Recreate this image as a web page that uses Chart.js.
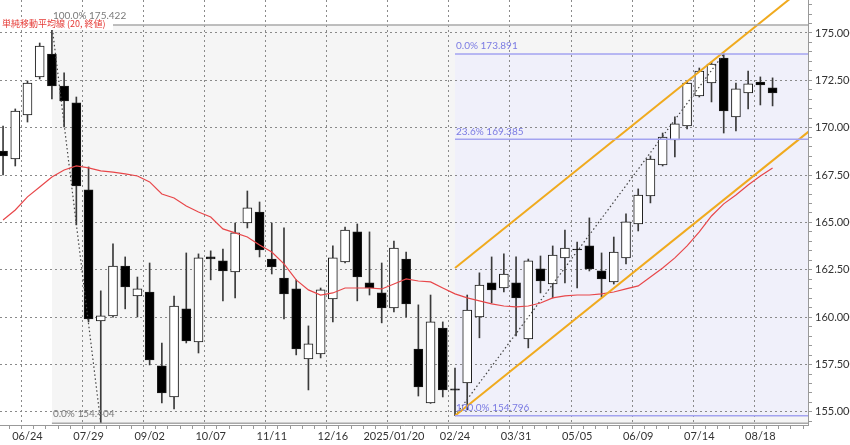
<!DOCTYPE html>
<html>
<head>
<meta charset="utf-8">
<script src="https://cdn.jsdelivr.net/npm/chart.js@4.4.1/dist/chart.umd.min.js"></script>
<style>
  html, body { margin: 0; padding: 0; background: #fff; }
  #wrap { width: 850px; height: 445px; }
</style>
</head>
<body>
<div id="wrap"><canvas id="chart" width="850" height="445"></canvas></div>
<script>
// weekly candles, first week = 2024/06/10
const open = [168.77, 168.35, 170.67, 172.68, 173.89, 172.20, 171.31, 166.72, 159.80, 160.07,
  162.70, 161.12, 161.33, 157.43, 155.79, 160.44, 158.69, 163.18, 162.97, 162.39,
  164.97, 165.55, 163.07, 162.07, 161.49, 157.80, 158.06, 160.96, 162.92, 164.50,
  161.81, 161.28, 160.49, 163.07, 158.32, 155.47, 159.43, 156.22, 156.53, 160.01,
  161.81, 161.54, 161.81, 158.85, 162.55, 161.75, 163.13, 163.60, 163.76, 162.44,
  161.86, 163.13, 164.92, 166.40, 168.03, 169.35, 170.09, 171.68, 172.36, 173.68,
  170.57, 171.83, 172.41, 172.10];
const high = [170.09, 170.99, 172.47, 174.47, 175.42, 172.89, 171.62, 167.93, 161.39, 163.87,
  163.18, 162.12, 162.86, 158.64, 161.12, 163.39, 163.34, 163.50, 163.60, 164.97,
  166.66, 166.08, 164.97, 164.71, 161.97, 159.54, 161.54, 163.76, 164.76, 164.92,
  164.50, 162.86, 164.02, 163.44, 160.65, 161.17, 159.75, 157.32, 161.17, 162.34,
  163.18, 163.34, 163.18, 163.07, 163.23, 163.76, 164.60, 163.97, 165.24, 163.39,
  164.23, 165.45, 166.77, 168.51, 169.72, 170.57, 172.41, 173.15, 173.47, 173.891,
  172.36, 172.99, 172.68, 172.63];
const low = [167.51, 167.98, 170.30, 172.57, 171.52, 170.04, 164.87, 159.75, 154.404, 160.00,
  160.44, 160.01, 157.48, 155.47, 155.16, 158.64, 158.11, 161.97, 160.86, 161.02,
  164.71, 163.18, 162.28, 159.91, 158.01, 156.16, 157.85, 159.75, 162.86, 160.86,
  161.17, 159.70, 160.28, 160.01, 155.84, 155.45, 155.79, 154.796, 155.11, 158.91,
  160.75, 161.33, 159.01, 158.38, 161.28, 161.02, 161.81, 161.54, 162.44, 161.07,
  161.75, 162.81, 164.55, 166.03, 167.98, 168.46, 169.93, 171.62, 171.36, 169.72,
  169.83, 170.99, 171.20, 171.15];
const close = [168.51, 170.88, 172.36, 174.31, 172.20, 171.41, 166.93, 159.91, 160.07, 162.70,
  161.60, 161.49, 157.74, 156.00, 160.59, 158.75, 163.13, 163.07, 162.44, 164.45,
  165.77, 163.55, 162.65, 161.23, 158.32, 158.59, 161.44, 163.13, 164.60, 162.12,
  161.54, 160.49, 163.65, 160.70, 156.32, 159.75, 156.16, 156.15, 160.38, 161.70,
  161.44, 162.28, 161.02, 162.97, 161.91, 163.28, 163.65, 163.55, 162.55, 162.02,
  163.44, 165.03, 166.45, 168.35, 169.51, 170.20, 172.36, 172.99, 173.36, 170.88,
  172.05, 172.31, 172.26, 171.83];
// 単純移動平均線 (20, 終値)
const sma20 = [165.13, 165.66, 166.35, 166.87, 167.40, 167.77, 167.98, 167.88, 167.72, 167.66,
  167.56, 167.45, 167.14, 166.50, 166.29, 165.87, 165.55, 165.29, 164.66, 164.45,
  164.23, 163.81, 163.44, 162.81, 161.97, 161.44, 161.17, 161.28, 161.54, 161.54,
  161.54, 161.49, 161.75, 162.02, 161.91, 161.86, 161.54, 161.23, 161.02, 160.86,
  160.70, 160.59, 160.54, 160.59, 160.75, 161.02, 161.12, 161.17, 161.17, 161.23,
  161.33, 161.49, 161.65, 162.12, 162.60, 163.13, 163.76, 164.50, 165.34, 165.98,
  166.45, 166.98, 167.45, 167.88];

// x tick labels every 5 weeks, starting at week 2
const tickLabels = ['06/24', '07/29', '09/02', '10/07', '11/11', '12/16', '2025/01/20',
  '02/24', '03/31', '05/05', '06/09', '07/14', '08/18'];
const tickFirst = 2;
const tickStep = 5;

// fibonacci (gray): from week 4 high to week 8 low
const fibGrayWeeks = [4, 8];
const fibGrayLevels = [175.422, 154.404];
const fibGrayNames = ['100.0%', '0.0%'];
// fibonacci (blue): from week 37 low to week 59 high
const fibBlueWeeks = [37, 59];
const fibBlueLevels = [173.891, 169.385, 154.796];
const fibBlueNames = ['0.0%', '23.6%', '100.0%'];
// channel lines
const channelWeeks = [37, 66];
const channelLower = [154.796, 169.82];
const channelUpper = [162.60, 177.62];

const xMin = -0.25, xMax = 65.9;
const yMin = 154.31, yMax = 176.74;

const isMajorY = v => Math.abs(v / 2.5 - Math.round(v / 2.5)) < 1e-6;
const isMajorX = v => (v - tickFirst) % tickStep === 0 && v >= tickFirst;

function hLine(week, level, color, width) {
  return {
    type: 'line', data: [{ x: week, y: level }, { x: xMax, y: level }],
    borderColor: color, borderWidth: width, pointRadius: 0, order: 1
  };
}

const datasets = [];
// wicks
datasets.push({
  type: 'bar',
  data: low.map((l, i) => ({ x: i, y: [l, high[i]] })),
  backgroundColor: '#3a3a3a', barThickness: 1, grouped: false, order: 5
});
// bodies
datasets.push({
  type: 'bar',
  data: open.map((o, i) => ({ x: i, y: [o, close[i]] })),
  backgroundColor: open.map((o, i) => close[i] >= o ? '#ffffff' : '#000000'),
  borderColor: '#1a1a1a', borderWidth: 1, borderSkipped: false,
  barThickness: 9, grouped: false, order: 4
});
// sma
datasets.push({
  type: 'line', data: sma20.map((v, i) => ({ x: i, y: v })),
  borderColor: '#e8474a', borderWidth: 1.2, pointRadius: 0, order: 2
});
// fib lines
fibGrayLevels.forEach(l => datasets.push(hLine(fibGrayWeeks[0], l, '#a8a8a8', 1.5)));
fibBlueLevels.forEach(l => datasets.push(hLine(fibBlueWeeks[0], l, '#a3a3f0', 1.5)));
// fib trend (dotted)
datasets.push({
  type: 'line',
  data: [{ x: fibGrayWeeks[0], y: fibGrayLevels[0] }, { x: fibGrayWeeks[1], y: fibGrayLevels[1] }],
  borderColor: '#444', borderWidth: 1.2, borderDash: [1.5, 2.5], pointRadius: 0, order: 3
});
datasets.push({
  type: 'line',
  data: [{ x: fibBlueWeeks[0], y: fibBlueLevels[2] }, { x: fibBlueWeeks[1], y: fibBlueLevels[0] }],
  borderColor: '#444', borderWidth: 1.2, borderDash: [1.5, 2.5], pointRadius: 0, order: 3
});
// channel
[channelLower, channelUpper].forEach(c => datasets.push({
  type: 'line',
  data: [{ x: channelWeeks[0], y: c[0] }, { x: channelWeeks[1], y: c[1] }],
  borderColor: '#f0aa1e', borderWidth: 2, pointRadius: 0, order: 1
}));

// fib background zones
const zonePlugin = {
  id: 'zones',
  beforeDraw(chart) {
    const { ctx, chartArea, scales: { x, y } } = chart;
    ctx.save();
    ctx.fillStyle = '#fff';
    ctx.fillRect(0, 0, chart.width, chart.height);
    let x0 = x.getPixelForValue(fibGrayWeeks[0]);
    let y0 = y.getPixelForValue(fibGrayLevels[0]);
    let y1 = y.getPixelForValue(fibGrayLevels[1]);
    ctx.fillStyle = '#f5f5f5';
    ctx.fillRect(x0, y0, chartArea.right - x0, y1 - y0);
    x0 = x.getPixelForValue(fibBlueWeeks[0]);
    y0 = y.getPixelForValue(fibBlueLevels[0]);
    y1 = y.getPixelForValue(fibBlueLevels[2]);
    ctx.fillStyle = '#f0f0fa';
    ctx.fillRect(x0, y0, chartArea.right - x0, y1 - y0);
    ctx.restore();
  },
  afterDraw(chart) {
    const { ctx, scales: { x, y } } = chart;
    ctx.save();
    // legend
    ctx.fillStyle = '#fff';
    ctx.fillRect(0, 19, 113, 11);
    ctx.fillStyle = '#e53935';
    ctx.font = '9px "Noto Sans CJK JP"';
    ctx.textBaseline = 'middle';
    ctx.fillText('単純移動平均線 (20, 終値)', 2, 24);
    // fib labels
    ctx.font = '10px Lato';
    ctx.textBaseline = 'bottom';
    ctx.fillStyle = '#7a7a7a';
    fibGrayLevels.forEach((l, k) => {
      ctx.fillText(fibGrayNames[k] + ' ' + l.toFixed(3), x.getPixelForValue(fibGrayWeeks[0]) + 1, y.getPixelForValue(l) - 4);
    });
    ctx.fillStyle = '#7b7be3';
    fibBlueLevels.forEach((l, k) => {
      ctx.fillText(fibBlueNames[k] + ' ' + l.toFixed(3), x.getPixelForValue(fibBlueWeeks[0]) + 1, y.getPixelForValue(l) - 3);
    });
    ctx.restore();
  }
};

new Chart(document.getElementById('chart'), {
  type: 'bar',
  data: { datasets },
  plugins: [zonePlugin],
  options: {
    responsive: false,
    animation: false,
    layout: { padding: 0 },
    plugins: { legend: { display: false }, tooltip: { enabled: false } },
    scales: {
      x: {
        type: 'linear', min: xMin, max: xMax, offset: false,
        afterBuildTicks(scale) {
          scale.ticks = [];
          for (let i = 0; i <= Math.floor(xMax); i++) scale.ticks.push({ value: i });
        },
        afterFit(scale) {
          scale.height = 20;
          scale.paddingLeft = 0;
          scale.paddingRight = 0;
        },
        ticks: {
          autoSkip: false, maxRotation: 0, minRotation: 0, padding: 1,
          color: '#333', font: { family: 'Lato', size: 11 },
          callback: v => isMajorX(v) ? (tickLabels[(v - tickFirst) / tickStep] || '') : ''
        },
        grid: {
          color: c => c.tick && isMajorX(c.tick.value) ? '#8a8a8a' : 'transparent',
          tickColor: '#999', tickLength: 4, lineWidth: 1
        },
        border: { color: '#999', dash: [2, 3] }
      },
      y: {
        position: 'right', min: yMin, max: yMax,
        afterBuildTicks(scale) {
          scale.ticks = [];
          for (let v = Math.ceil(yMin * 2) / 2; v <= yMax; v += 0.5) scale.ticks.push({ value: v });
        },
        afterFit(scale) {
          scale.width = 42;
          scale.paddingTop = 0;
          scale.paddingBottom = 0;
        },
        ticks: {
          autoSkip: false, padding: 3,
          color: '#333', font: { family: 'Lato', size: 11 },
          callback: v => isMajorY(v) ? v.toFixed(3) : ''
        },
        grid: {
          color: c => c.tick && isMajorY(c.tick.value) ? '#8a8a8a' : 'transparent',
          tickColor: '#999', tickLength: 4, lineWidth: 1
        },
        border: { color: '#999', dash: [2, 3] }
      }
    }
  }
});
</script>
</body>
</html>
